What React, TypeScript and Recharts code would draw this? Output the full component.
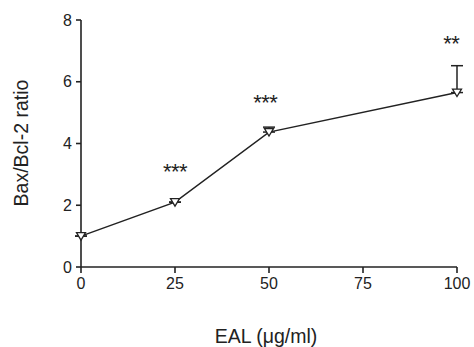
import React from 'react';
import { ComposedChart, Line, Scatter, XAxis, YAxis, ErrorBar, Label } from 'recharts';

const doses = [0, 25, 50, 100];
const ratios = [1.0, 2.1, 4.37, 5.65];
const errUp = [0, 0, 0.16, 0.87];
const xTicks = [0, 25, 50, 75, 100];
const yTicks = [0, 2, 4, 6, 8];
const sigX = [25, 49, 98.5];
const sigY = [3.24, 5.47, 7.38];
const sigText = ['***', '***', '**'];

const data = doses.map((d, i) => ({ x: d, y: ratios[i], err: [0, errUp[i]] }));
const sigData = sigX.map((x, i) => ({ x, y: sigY[i], t: sigText[i] }));

const INK = '#222';
const FONT = 'Liberation Sans, Arial, sans-serif';

const Tri = (p: any) => {
  const { cx, cy } = p;
  if (cx == null || cy == null) return null;
  return (
    <polygon
      points={`${cx - 4.5},${cy - 3.5} ${cx + 4.5},${cy - 3.5} ${cx},${cy + 4}`}
      fill="#fff"
      stroke={INK}
      strokeWidth={1.3}
    />
  );
};

const Stars = (p: any) => {
  const { cx, cy, payload } = p;
  return (
    <text x={cx} y={cy + 12} textAnchor="middle" fontSize={22} fontFamily={FONT} fill={INK} letterSpacing={-0.5}>
      {payload.t}
    </text>
  );
};

export default function App() {
  return (
    <div style={{ position: 'absolute', left: 0, top: 0, width: 474, height: 347, background: '#fff' }}>
      <ComposedChart width={474} height={347} data={data} margin={{ top: 20, right: 17, bottom: 0, left: 0 }}>
        <XAxis
          dataKey="x"
          type="number"
          domain={[0, 100]}
          ticks={xTicks}
          height={80}
          stroke={INK}
          strokeWidth={1.6}
          tickSize={6}
          tickMargin={5}
          tick={{ fill: INK, fontSize: 16, fontFamily: FONT }}
          interval={0}
        >
          <Label
            content={(props: any) => {
              const vb = props.viewBox;
              return (
                <text x={vb.x + vb.width / 2 - 3} y={343} textAnchor="middle" fontSize={19.5} fontFamily={FONT} fill={INK}>
                  EAL (μg/ml)
                </text>
              );
            }}
          />
        </XAxis>
        <YAxis
          type="number"
          domain={[0, 8]}
          ticks={yTicks}
          width={81}
          stroke={INK}
          strokeWidth={1.6}
          tickSize={5}
          tickMargin={4}
          tick={{ fill: INK, fontSize: 16, fontFamily: FONT }}
          interval={0}
        >
          <Label
            content={(props: any) => {
              const vb = props.viewBox;
              const cy = vb.y + vb.height / 2 - 0.5;
              return (
                <text x={28} y={cy} transform={`rotate(-90, 28, ${cy})`} textAnchor="middle" fontSize={19.5} fontFamily={FONT} fill={INK}>
                  Bax/Bcl-2 ratio
                </text>
              );
            }}
          />
        </YAxis>
        <Line
          dataKey="y"
          stroke={INK}
          strokeWidth={1.5}
          dot={<Tri />}
          activeDot={false}
          isAnimationActive={false}
        >
          <ErrorBar dataKey="err" direction="y" width={6} stroke={INK} strokeWidth={1.5} />
        </Line>
        <Scatter data={sigData} dataKey="y" shape={<Stars />} isAnimationActive={false} />
      </ComposedChart>
    </div>
  );
}
